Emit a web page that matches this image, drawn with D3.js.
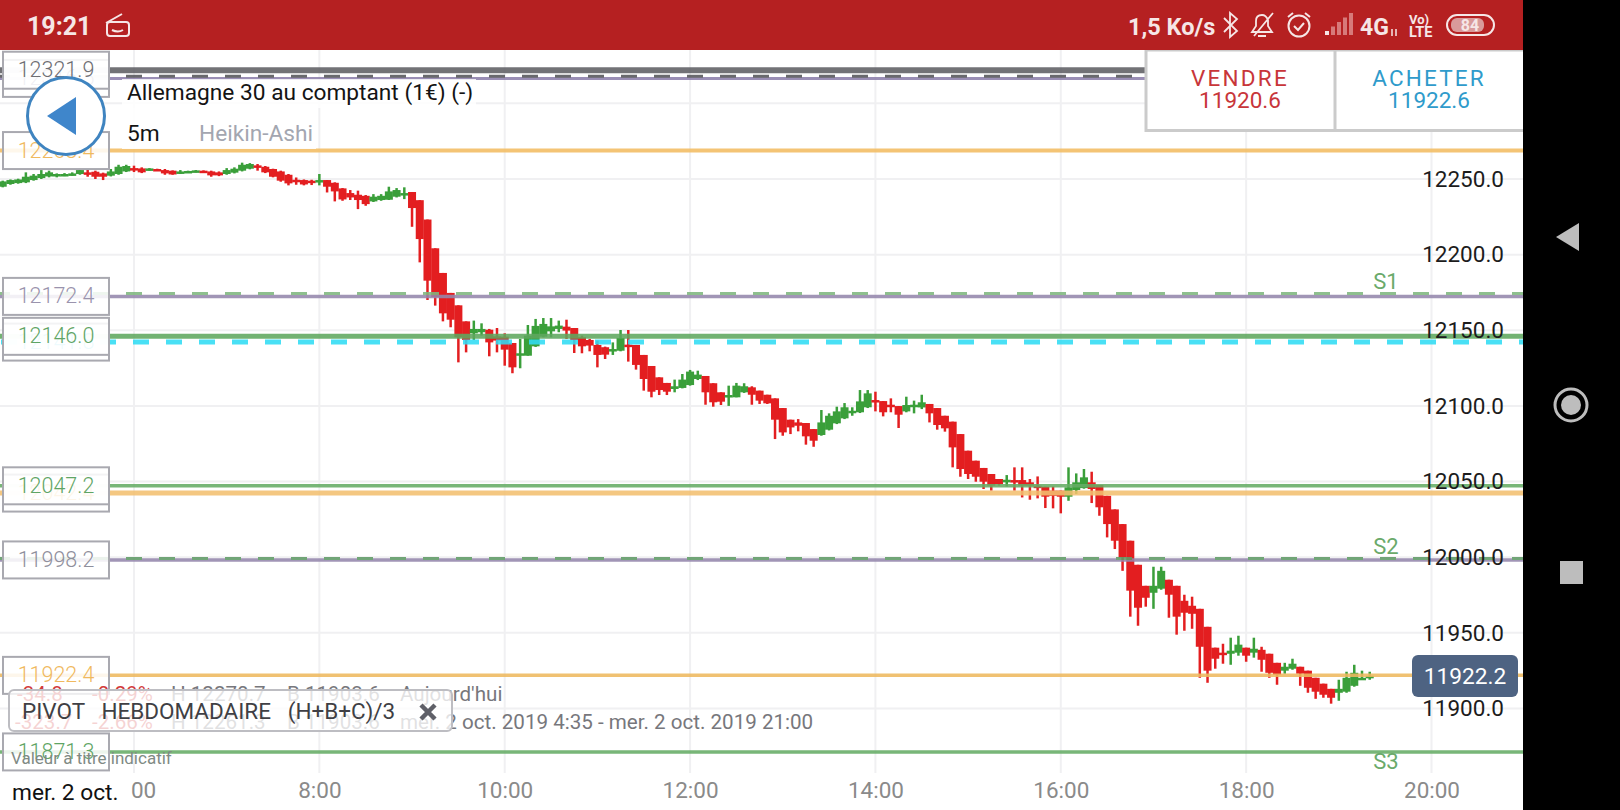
<!DOCTYPE html>
<html>
<head>
<meta charset="utf-8">
<title>Allemagne 30</title>
<style>
  html, body { margin: 0; padding: 0; background: #fff; overflow: hidden; }
  text { font-family: Roboto, sans-serif; }
  .tick text { font-family: Roboto, sans-serif; }
</style>
</head>
<body>
<script src="https://cdnjs.cloudflare.com/ajax/libs/d3/7.8.5/d3.min.js"></script>
<script>
// heikin-ashi candles, 5m, one every 5 minutes from 4:35
var opens = [12244.9,12246.7,12247.3,12247.8,12249.3,12250.6,12251.7,12252.6,12252.6,12252.8,
  12253.3,12254.4,12254.8,12253.7,12252.2,12253.3,12255,12257.2,12257,12255.9,
  12256.6,12255.9,12255.5,12254.4,12254.6,12254.6,12255.5,12255,12254.4,12253.3,
  12254.2,12255.5,12256.8,12259,12258.1,12256.6,12255,12252.8,12249.5,12249.3,
  12248.9,12248.4,12249.3,12247.5,12243.8,12240.7,12239.6,12238.9,12235.2,12236.1,
  12236.3,12238.3,12240,12241.4,12236,12223.2,12204.2,12187.9,12174.7,12166.5,
  12155.9,12148,12148.7,12150.4,12146,12145.8,12141.6,12133.7,12133.2,12139.4,
  12145.8,12149.3,12150.9,12152.4,12151.5,12145.4,12143.6,12140.3,12138.8,12136.1,
  12136.5,12140.5,12140.3,12133.7,12126.4,12118.9,12115.2,12111.2,12111.9,12113.8,
  12117.8,12119.8,12115,12109,12105.7,12105.7,12109,12112.3,12110.1,12107.4,
  12105,12098.6,12090.9,12089.1,12088.7,12084.7,12080.8,12084.3,12088.5,12091.8,
  12095.3,12095.8,12099.1,12103.9,12103.2,12100.8,12099.9,12096.4,12099.7,12099,
  12101.3,12098.6,12093.5,12089.6,12081.4,12070.4,12063.8,12059,12055,12051.7,
  12049.5,12051,12051,12049.5,12047.3,12046.6,12044,12044,12040,12044.4,
  12045.7,12049.5,12047.7,12040.6,12031.6,12021.9,12010.9,11995,11981.1,11976.5,
  11979.2,11985.1,11981.1,11971.2,11967.9,11965.9,11954,11940.2,11936.9,11936.2,
  11936.9,11940.2,11936.9,11938.8,11936.2,11930.2,11925,11926.3,11927.6,11925,
  11920.3,11916.4,11913,11910.4,11911.1,11915,11919,11921];
var highs = [12248.9,12249.7,12250.2,12254.4,12253.3,12255.9,12255.5,12253.7,12253.9,12254.4,
  12257.2,12256.1,12255.5,12254.2,12256.6,12259.4,12259.4,12258.8,12257.7,12257.2,
  12256.8,12256.6,12255.7,12255.9,12255.5,12255.9,12255.7,12255.5,12255,12257.2,
  12257.7,12260.8,12260.5,12259.9,12258.6,12256.8,12255.5,12253.3,12251,12249.7,
  12249.5,12253.3,12249.3,12247.8,12244,12242.7,12242.3,12239.4,12240,12240,
  12244.9,12244,12244.5,12241.4,12236,12223.2,12204.2,12187.9,12174.7,12166.5,
  12155.9,12156.4,12154.6,12150.9,12151.5,12148,12141.6,12144.3,12153.5,12157.5,
  12158.1,12158.1,12156.4,12157,12151.5,12146.5,12144.3,12143.2,12139.2,12142,
  12150.2,12150.2,12140.3,12133.7,12126.4,12118.9,12115.2,12117.4,12121.1,12123.8,
  12123.3,12119.8,12115,12109,12113.4,12115.2,12115,12113,12110.1,12107.4,
  12105,12098.6,12090.9,12091.3,12088.7,12084.7,12097.3,12095.1,12099.5,12101.9,
  12099.1,12110.5,12110.5,12109.4,12103.2,12105,12099.9,12106.1,12103.5,12107.4,
  12101.3,12098.6,12093.5,12089.6,12081.4,12070.4,12063.8,12059,12055,12051.7,
  12054.3,12059.4,12059.4,12051.7,12053.4,12046.6,12046.8,12044,12059.4,12055.4,
  12058.3,12056.5,12047.7,12040.6,12031.6,12021.9,12010.9,11995,11981.1,11993.7,
  11993.7,11985.1,11981.1,11975.2,11973.9,11965.9,11954,11940.2,11942.8,11946.8,
  11948.1,11940.2,11946.8,11940.8,11936.2,11930.2,11930.2,11932.9,11927.6,11925,
  11920.3,11916.4,11913,11919,11924.3,11928.9,11925,11924.3];
var lows = [12244.5,12246.2,12246.9,12247.3,12248.9,12250,12251.1,12251.1,12251.9,12252.2,
  12252.8,12251.5,12250,12249.3,12251.7,12252.8,12254.6,12254.6,12253.9,12255.5,
  12255.5,12252.8,12252.8,12253.3,12254.2,12254.4,12254.2,12251.5,12251.9,12252.8,
  12253.7,12255,12256.4,12255.5,12253.9,12251.1,12248.2,12245.8,12246.2,12245.8,
  12246,12245.8,12241.1,12235.2,12235.6,12236.1,12230.1,12232.3,12234.8,12235.6,
  12236.1,12237.8,12236.7,12218.4,12194.9,12170,12166.3,12155.9,12152,12128.8,
  12135.4,12143.6,12146.5,12132.8,12135.4,12126.6,12121.6,12124.9,12133.2,12139,
  12145.4,12145.4,12148.7,12144.3,12135,12134.8,12136.1,12125.5,12131,12133.7,
  12136.1,12129.3,12124,12110.1,12105.7,12107.2,12107.2,12109,12111.6,12113.4,
  12117.1,12100.8,12099.5,12100.6,12100,12105.7,12108.6,12100.8,12101.3,12101.3,
  12078.1,12080.3,12081.4,12083.2,12074.4,12073,12080.3,12083.8,12088,12091.3,
  12093.5,12095.3,12098.6,12096.4,12093.1,12095.8,12085.4,12095.8,12095.1,12097.9,
  12089.1,12084.3,12083,12059.4,12053.2,12051.7,12049.9,12045.1,12044,12047.3,
  12046.8,12044,12039.5,12038,12038.9,12032.5,12032.3,12029,12037.3,12041.8,
  12045.3,12035.8,12027.4,12013.1,12005.4,11991,11960.7,11954.7,11967.3,11965.9,
  11978.5,11960,11948.8,11951.4,11952.7,11920.3,11917,11926.3,11929.6,11928.9,
  11934.9,11930.9,11933.6,11924.3,11920.3,11915.7,11923,11925.6,11915,11910.4,
  11906.4,11907.1,11903.2,11905.1,11910.4,11914.4,11919,11919];
var closes = [12248.4,12249.3,12249.7,12251.5,12252.2,12253.3,12254.4,12253.3,12253.3,12253.7,
  12255.9,12253.5,12251.5,12251.5,12255,12258.1,12258.6,12256.4,12254.4,12257,
  12255.9,12253.7,12253,12255,12255.3,12255.7,12254.6,12252.4,12252.4,12255.9,
  12256.8,12259.4,12259.9,12257.7,12254.4,12251.5,12248.9,12247.1,12248.4,12246.4,
  12247.3,12249.3,12244.9,12241.8,12236.5,12237.8,12236.1,12233.4,12238.3,12238.9,
  12241.8,12242.7,12240.7,12230.8,12210.3,12182.8,12172,12161.2,12157,12145.4,
  12143.6,12150.9,12150.9,12142,12143.2,12137.2,12125.5,12134.8,12146.5,12152.9,
  12154.2,12152.6,12153.1,12149.8,12143.6,12139.4,12139.9,12133.7,12133.9,12137.6,
  12144.9,12139.2,12127.1,12117.8,12109.4,12110.5,12109.4,12113,12117.4,12122.7,
  12120.7,12109,12102.4,12102.8,12107.2,12113.4,12113,12107.4,12103.5,12101.7,
  12090.9,12082.5,12085.8,12086.9,12079.9,12077,12089.1,12093.5,12096.4,12099.1,
  12096.8,12103,12108.3,12102.4,12095.8,12099.5,12094.2,12100.6,12100.8,12102.4,
  12095.1,12087.4,12085.2,12072.6,12058.3,12055,12053.2,12049.9,12047.3,12048.4,
  12051.2,12049.5,12047.3,12047.3,12045.7,12040,12040.6,12040,12046.2,12049.5,
  12052.8,12045.1,12033,12021.9,12010.9,11999.9,11977.9,11966.6,11973.2,11981.1,
  11991,11975.2,11960.7,11963.3,11962.6,11940.8,11925,11932.9,11936.2,11938.2,
  11942.2,11934.9,11939.5,11932.2,11923.6,11922.3,11927.6,11929.6,11923,11913.7,
  11911.1,11909.1,11907.1,11913,11920.3,11923.6,11920.3,11921.6];

var startMinutes = 4 * 60 + 35;
var candleStepMinutes = 5;

var hourTicks = [6, 8, 10, 12, 14, 16, 18, 20];
var priceTicks = [11900, 11950, 12000, 12050, 12100, 12150, 12200, 12250, 12300];
var priceLabelTicks = [11900, 11950, 12000, 12050, 12100, 12150, 12200, 12250];

// level lines: hidden ones first, the label box of the next one sits over it
var levelNames  = ["pp2", "pp1", "r1", "s1", "cyan", "pivot", "orange2", "green2", "s2", "orange3", "s3"];
var levelValues = [12316.5, 12321.9, 12268.8, 12172.4, 12142.2, 12146.0, 12042.4, 12047.2, 11998.2, 11921.9, 11871.3];
var levelLabels = ["12316.5", "12321.9", "12268.4", "12172.4", "12141.8", "12146.0", "12042.4", "12047.2", "11998.2", "11922.4", "11871.3"];

var dashLevelNames  = ["top", "s1", "s2"];
var dashLevelValues = [12318.0, 12174.3, 11999.2];
var sideLabels = ["S1", "S2", "S3"];
var sideLabelValues = [12181.3, 12006.2, 11864];

var lastPrice = "11922.2";
var sellPrice = "11920.6", buyPrice = "11922.6";

var levelStyle = {
  pp2:     {color: "#8d7fab", w: 3, text: "#9a93ad"},
  pp1:     {color: "#5f5f64", w: 6, text: "#6e6e73"},
  r1:      {color: "#f3bd62", w: 4, text: "#f0b95e"},
  s1:      {color: "#9587ad", w: 3.5, text: "#9a93ad"},
  cyan:    {color: "#30dcf4", w: 5, dash: "16,17", off: 32, text: "#7fdcec"},
  pivot:   {color: "#5fa85f", w: 5, text: "#5fa565"},
  orange2: {color: "#f3c070", w: 5, text: "#f0b95e"},
  green2:  {color: "#66ad66", w: 3.5, text: "#5fa565"},
  s2:      {color: "#9587ad", w: 3.5, text: "#8f8f9c"},
  orange3: {color: "#eeb95f", w: 3.5, text: "#f0b95e"},
  s3:      {color: "#66ad66", w: 3.5, text: "#5fa565"}
};
var dashStyle = {
  top: {color: "#55555a"},
  s1:  {color: "#7fb77f"},
  s2:  {color: "#5f9a66"}
};

var width = 1620, height = 810, screenRight = 1523, statusH = 50, plotBottom = 773;
var candleRed = "#e31e20", candleGreen = "#3a9f3a";

var svg = d3.select("body").append("svg")
  .attr("width", width).attr("height", height)
  .style("display", "block");

var x = d3.scaleTime()
  .domain([new Date(2019, 9, 2, 6), new Date(2019, 9, 2, 20)])
  .range([134, 1431.5]);
var y = d3.scaleLinear()
  .domain([11900, 12250])
  .range([708.5, 179]);

function candleTime(i) {
  return new Date(2019, 9, 2, 0, startMinutes + i * candleStepMinutes);
}
var candleWidth = x(candleTime(1)) - x(candleTime(0)) + 0.3;

// grid
var grid = svg.append("g");
grid.selectAll("line.h").data(priceTicks).enter().append("line")
  .attr("class", "h")
  .attr("x1", 0).attr("x2", screenRight)
  .attr("y1", function(d) { return y(d); }).attr("y2", function(d) { return y(d); })
  .attr("stroke", "#f0f0f2").attr("stroke-width", 2);
grid.selectAll("line.v").data(hourTicks).enter().append("line")
  .attr("class", "v")
  .attr("x1", function(d) { return x(new Date(2019, 9, 2, d)); })
  .attr("x2", function(d) { return x(new Date(2019, 9, 2, d)); })
  .attr("y1", statusH).attr("y2", plotBottom)
  .attr("stroke", "#f0f0f2").attr("stroke-width", 2);

// candles
var candles = svg.append("g").selectAll("g").data(opens).enter().append("g");
candles.append("line")
  .attr("x1", function(d, i) { return x(candleTime(i)); })
  .attr("x2", function(d, i) { return x(candleTime(i)); })
  .attr("y1", function(d, i) { return y(highs[i]); })
  .attr("y2", function(d, i) { return y(lows[i]); })
  .attr("stroke-width", 2.5)
  .attr("stroke", function(d, i) { return closes[i] >= d ? candleGreen : candleRed; });
candles.append("rect")
  .attr("x", function(d, i) { return x(candleTime(i)) - candleWidth / 2; })
  .attr("width", candleWidth)
  .attr("y", function(d, i) { return y(Math.max(d, closes[i])); })
  .attr("height", function(d, i) { return Math.max(2.5, Math.abs(y(d) - y(closes[i]))); })
  .attr("fill", function(d, i) { return closes[i] >= d ? candleGreen : candleRed; });

// level lines
var lines = svg.append("g").attr("opacity", 0.88);
lines.selectAll("line.level").data(levelNames).enter().append("line")
  .attr("class", "level")
  .attr("x1", 0).attr("x2", screenRight)
  .attr("y1", function(d, i) { return y(levelValues[i]); })
  .attr("y2", function(d, i) { return y(levelValues[i]); })
  .attr("stroke", function(d) { return levelStyle[d].color; })
  .attr("stroke-width", function(d) { return levelStyle[d].w; })
  .attr("stroke-dasharray", function(d) { return levelStyle[d].dash || null; })
  .attr("stroke-dashoffset", function(d) { return levelStyle[d].off || 0; });
lines.selectAll("line.dash").data(dashLevelNames).enter().append("line")
  .attr("class", "dash")
  .attr("x1", 0).attr("x2", screenRight)
  .attr("y1", function(d, i) { return y(dashLevelValues[i]); })
  .attr("y2", function(d, i) { return y(dashLevelValues[i]); })
  .attr("stroke", function(d) { return dashStyle[d].color; })
  .attr("stroke-width", 3)
  .attr("stroke-dasharray", "16,17")
  .attr("stroke-dashoffset", 6);

// S1, S2, S3
svg.append("g").selectAll("text").data(sideLabels).enter().append("text")
  .attr("x", 1386)
  .attr("y", function(d, i) { return y(sideLabelValues[i]); })
  .attr("text-anchor", "middle").attr("dominant-baseline", "middle")
  .attr("font-size", 22).attr("fill", "#6aaa6a")
  .text(function(d) { return d; });

// price axis
var yAxis = d3.axisLeft(y).tickValues(priceLabelTicks).tickSize(0).tickPadding(0)
  .tickFormat(d3.format(".1f"));
var yG = svg.append("g").attr("transform", "translate(1504,0)").call(yAxis);
yG.select(".domain").remove();
yG.selectAll("text").attr("font-size", 22.5).attr("fill", "#1c1c1c").attr("font-family", "Roboto");

// time axis
var xAxis = d3.axisBottom(x)
  .tickValues(hourTicks.map(function(h) { return new Date(2019, 9, 2, h); }))
  .tickSize(0).tickPadding(0).tickFormat(d3.timeFormat("%-H:%M"));
var xG = svg.append("g").attr("transform", "translate(0,782)").call(xAxis);
xG.select(".domain").remove();
xG.selectAll("text").attr("font-size", 22.5).attr("fill", "#8a8a8a").attr("font-family", "Roboto");

// box labels on the left
var boxes = svg.append("g").selectAll("g").data(levelNames).enter().append("g");
boxes.append("rect")
  .attr("x", 3).attr("width", 106)
  .attr("y", function(d, i) { return y(levelValues[i]) - 18.5; })
  .attr("height", 37)
  .attr("fill", "#fff").attr("fill-opacity", 0.86)
  .attr("stroke", "#a9a9b0").attr("stroke-width", 2);
boxes.append("text")
  .attr("x", 56).attr("text-anchor", "middle")
  .attr("y", function(d, i) { return y(levelValues[i]) + 7; })
  .attr("font-size", 21.5)
  .attr("font-weight", 300)
  .attr("fill", function(d) { return levelStyle[d].text; })
  .text(function(d, i) { return levelLabels[i]; });

// stats under the pivot chip
var statsRows = [
  ["-34.8", "-0.29%", "H 12270.7", "B 11903.6", "Aujourd'hui"],
  ["-323.7", "-2.66%", "H 12261.3", "B 11903.6", "mer. 2 oct. 2019 4:35 - mer. 2 oct. 2019 21:00"]
];
var statsX = [17, 92, 171, 287, 400];
statsRows.forEach(function(row, r) {
  svg.append("g").selectAll("text").data(row).enter().append("text")
    .attr("x", function(d, i) { return statsX[i] - (r == 1 && i == 0 ? 2 : 0); })
    .attr("y", 701 + r * 28)
    .attr("font-size", 20.6)
    .attr("fill", function(d, i) { return i < 2 ? "#d23a3a" : "#77777c"; })
    .text(function(d) { return d; });
});

// pivot chip
svg.append("rect")
  .attr("x", 9).attr("y", 690).attr("width", 443).attr("height", 41).attr("rx", 5)
  .attr("fill", "#fff").attr("fill-opacity", 0.78)
  .attr("stroke", "#bdbdc2").attr("stroke-width", 2);
svg.append("text").attr("x", 22).attr("y", 719).attr("font-size", 22.5).attr("fill", "#3f3f44")
  .style("white-space", "pre").text("PIVOT   HEBDOMADAIRE   (H+B+C)/3");
svg.append("path").attr("d", "M421,705L435,719M435,705L421,719")
  .attr("stroke", "#5f6068").attr("stroke-width", 4.5).attr("fill", "none");

svg.append("text").attr("x", 11).attr("y", 764).attr("font-size", 17).attr("fill", "#808a84")
  .text("Valeur à titre indicatif");

// date chip over the first tick, only the end of 6:00 shows
svg.append("rect").attr("x", 0).attr("y", 773).attr("width", 131).attr("height", 37).attr("fill", "#fff");
svg.append("text").attr("x", 12).attr("y", 800).attr("font-size", 22.7).attr("fill", "#111").text("mer. 2 oct.");

// title block
svg.append("rect").attr("x", 122).attr("y", 79).attr("width", 354).attr("height", 25).attr("fill", "#fff").attr("fill-opacity", 0.82);
svg.append("rect").attr("x", 122).attr("y", 104).attr("width", 354).attr("height", 4).attr("fill", "#fff").attr("fill-opacity", 0.82);
svg.append("rect").attr("x", 122).attr("y", 108).attr("width", 194).attr("height", 41).attr("fill", "#fff").attr("fill-opacity", 0.9);
svg.append("text").attr("x", 127).attr("y", 100).attr("font-size", 22.7).attr("fill", "#141414")
  .text("Allemagne 30 au comptant (1€) (-)");
svg.append("text").attr("x", 127).attr("y", 141).attr("font-size", 22.7).attr("fill", "#141414").text("5m");
svg.append("text").attr("x", 199).attr("y", 141).attr("font-size", 22.7).attr("fill", "#a3a6b0").text("Heikin-Ashi");

// back button
svg.append("circle").attr("cx", 66).attr("cy", 116).attr("r", 38.5)
  .attr("fill", "#fff").attr("stroke", "#3f84c0").attr("stroke-width", 3);
svg.append("path").attr("d", "M47,116L76,97L76,135Z").attr("fill", "#3f86cb");

// last price tag
svg.append("rect").attr("x", 1412).attr("y", 655).attr("width", 106).attr("height", 42).attr("rx", 6).attr("fill", "#4e6382");
svg.append("text").attr("x", 1465).attr("y", 684).attr("text-anchor", "middle")
  .attr("font-size", 22.7).attr("fill", "#fff").text(lastPrice);

// sell / buy panel
var panel = svg.append("g");
panel.append("rect").attr("x", 1146).attr("y", 50).attr("width", 390).attr("height", 80.5)
  .attr("fill", "#fff").attr("stroke", "#cbcbcb").attr("stroke-width", 3);
panel.append("line").attr("x1", 1335).attr("x2", 1335).attr("y1", 50).attr("y2", 130)
  .attr("stroke", "#cbcbcb").attr("stroke-width", 3);
[["VENDRE", sellPrice, 1240, "#c8363a"], ["ACHETER", buyPrice, 1429, "#2f9bcb"]].forEach(function(p) {
  panel.append("text").attr("x", p[2]).attr("y", 86).attr("text-anchor", "middle")
    .attr("font-size", 22.5).attr("letter-spacing", 2.2).attr("fill", p[3]).text(p[0]);
  panel.append("text").attr("x", p[2]).attr("y", 108).attr("text-anchor", "middle")
    .attr("font-size", 22.5).attr("fill", p[3]).text(p[1]);
});

// status bar
svg.append("rect").attr("width", screenRight).attr("height", statusH).attr("fill", "#b52021");
var statusBar = svg.append("g").attr("fill", "#f6e6e6");
statusBar.append("text").attr("x", 27).attr("y", 35).attr("font-size", 25).attr("font-weight", 700).text("19:21");
statusBar.append("path").attr("d", "M106,23L122,14M110,22H126Q129,22 129,25V33Q129,36 126,36H110Q107,36 107,33V25Q107,22 110,22ZM112,30Q118,33 123,30")
  .attr("fill", "none").attr("stroke", "#f6e6e6").attr("stroke-width", 2);
statusBar.append("text").attr("x", 1128).attr("y", 35).attr("font-size", 23.5).attr("font-weight", 700).text("1,5 Ko/s");
statusBar.append("path").attr("d", "M1224,18L1237,31L1230,37V13L1237,19L1224,32")
  .attr("fill", "none").attr("stroke", "#f6e6e6").attr("stroke-width", 1.8);
statusBar.append("path").attr("d", "M1252,32H1272L1268,26V20Q1266,15 1262,15Q1256,15 1256,21V26ZM1258,36H1266M1254,36L1273,13")
  .attr("fill", "none").attr("stroke", "#f6e6e6").attr("stroke-width", 1.8);
statusBar.append("circle").attr("cx", 1299).attr("cy", 26).attr("r", 10.5)
  .attr("fill", "none").attr("stroke", "#f6e6e6").attr("stroke-width", 2);
statusBar.append("path").attr("d", "M1294,26L1298,30L1304,23M1288,17L1293,13M1310,17L1305,13")
  .attr("fill", "none").attr("stroke", "#f6e6e6").attr("stroke-width", 2);
[0, 1, 2, 3, 4].forEach(function(k) {
  statusBar.append("rect").attr("x", 1325 + k * 6).attr("y", 31 - k * 4.5).attr("width", 4).attr("height", 4 + k * 4.5)
    .attr("fill", k == 0 ? "#f6e6e6" : "#d77a7a");
});
statusBar.append("text").attr("x", 1360).attr("y", 35).attr("font-size", 23).attr("font-weight", 700).text("4G");
statusBar.append("path").attr("d", "M1392,29V36M1396,36V29").attr("stroke", "#f6e6e6").attr("stroke-width", 1.5);
statusBar.append("text").attr("x", 1409).attr("y", 24).attr("font-size", 13).attr("font-weight", 700).text("Vo)");
statusBar.append("text").attr("x", 1409).attr("y", 37).attr("font-size", 14.5).attr("font-weight", 700).text("LTE");
statusBar.append("rect").attr("x", 1447).attr("y", 15).attr("width", 47).attr("height", 20).attr("rx", 10)
  .attr("fill", "none").attr("stroke", "#f6e6e6").attr("stroke-width", 2);
statusBar.append("rect").attr("x", 1451).attr("y", 18).attr("width", 33).attr("height", 14).attr("rx", 6).attr("fill", "#d99a9a");
statusBar.append("text").attr("x", 1470).attr("y", 31).attr("text-anchor", "middle").attr("font-size", 16).attr("font-weight", 700).text("84");

// android nav strip
svg.append("rect").attr("x", screenRight).attr("width", width - screenRight).attr("height", height).attr("fill", "#000");
svg.append("path").attr("d", "M1556,237L1579,223V251Z").attr("fill", "#bdbdbd");
svg.append("circle").attr("cx", 1571).attr("cy", 405).attr("r", 16).attr("fill", "none").attr("stroke", "#bdbdbd").attr("stroke-width", 3);
svg.append("circle").attr("cx", 1571).attr("cy", 405).attr("r", 10).attr("fill", "#bdbdbd");
svg.append("rect").attr("x", 1560).attr("y", 561).attr("width", 23).attr("height", 23).attr("fill", "#bdbdbd");
</script>
</body>
</html>
